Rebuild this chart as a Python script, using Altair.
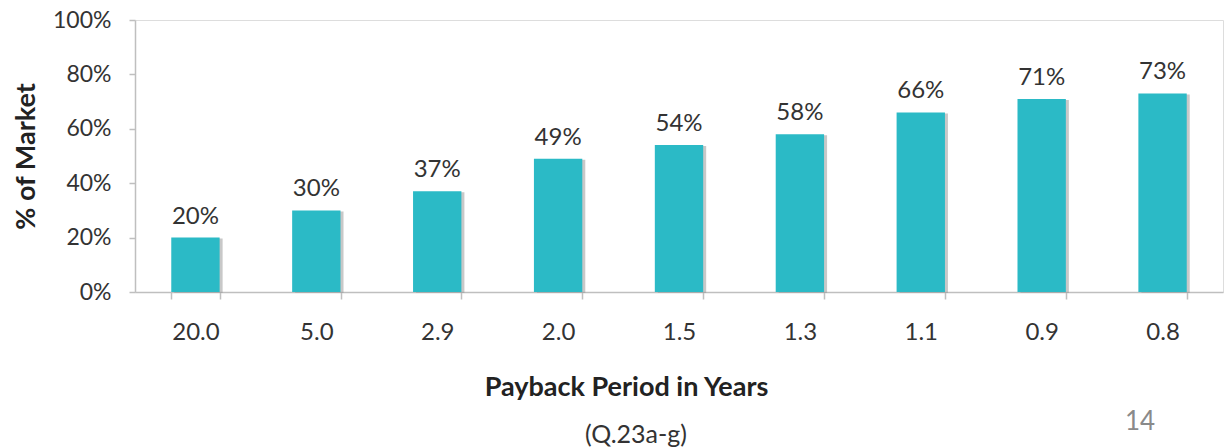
import altair as alt
import pandas as pd

periods = ["20.0", "5.0", "2.9", "2.0", "1.5", "1.3", "1.1", "0.9", "0.8"]
market_share = [20, 30, 37, 49, 54, 58, 66, 71, 73]
y_ticks = [0, 20, 40, 60, 80, 100]

df = pd.DataFrame({"period": periods, "share": market_share})
df["label"] = [f"{v}%" for v in market_share]

FONT = "Lato"
BAR = "#2BBAC6"
AXIS = "#BFBFBF"
TXT = "#333333"

x_enc = alt.X(
    "period:N",
    sort=periods,
    scale=alt.Scale(paddingInner=0.6, paddingOuter=0.3),
    axis=alt.Axis(
        title="Payback Period in Years",
        titleFont=FONT, titleFontSize=27, titleFontWeight="bold", titleColor="#222",
        titlePadding=30, titleX=491,
        labelAngle=0, labelFont=FONT, labelFontSize=24, labelColor=TXT, labelPadding=21,
        tickBand="extent", tickSize=7, tickColor=AXIS, domainColor=AXIS,
        domainWidth=1.5, tickWidth=1.5,
    ),
)
y_enc = alt.Y(
    "share:Q",
    scale=alt.Scale(domain=[0, 100]),
    axis=alt.Axis(
        values=y_ticks, labelExpr="datum.value + '%'",
        title="% of Market",
        titleFont=FONT, titleFontSize=27, titleFontWeight="bold", titleColor="#222",
        titleX=-109, titleY=136, titleAngle=-90, titleAlign="center", titleBaseline="middle",
        labelFont=FONT, labelFontSize=23, labelColor=TXT, labelPadding=18,
        tickSize=6, tickColor=AXIS, domainColor=AXIS, grid=False,
        domainWidth=1.5, tickWidth=1.5,
    ),
)

base = alt.Chart(df)
shadow = base.mark_bar(color="#9a9a9a", opacity=0.55, xOffset=3, yOffset=1).encode(x=x_enc, y=y_enc)
bars = base.mark_bar(color=BAR).encode(x=x_enc, y=y_enc)
labels = base.mark_text(font=FONT, fontSize=24, color=TXT, baseline="alphabetic", dy=-14).encode(
    x=alt.X("period:N", sort=periods), y="share:Q", text="label:N"
)

q = alt.Chart(pd.DataFrame({"t": ["(Q.23a-g)"]})).mark_text(
    font=FONT, fontSize=25, color="#333"
).encode(x=alt.value(501), y=alt.value(415), text="t:N")
page = alt.Chart(pd.DataFrame({"t": ["14"]})).mark_text(
    font=FONT, fontSize=26, color="#8a8a8a"
).encode(x=alt.value(1005), y=alt.value(402), text="t:N")

chart = alt.layer(shadow, bars, labels, q, page).properties(
    width=1088, height=272,
    autosize=alt.AutoSizeParams(type="none"),
    padding={"left": 135, "top": 20, "right": 7, "bottom": 156},
).configure_view(stroke=None).configure(background="white")

chart.save("out.html", embed_options={"renderer": "svg", "actions": False})
